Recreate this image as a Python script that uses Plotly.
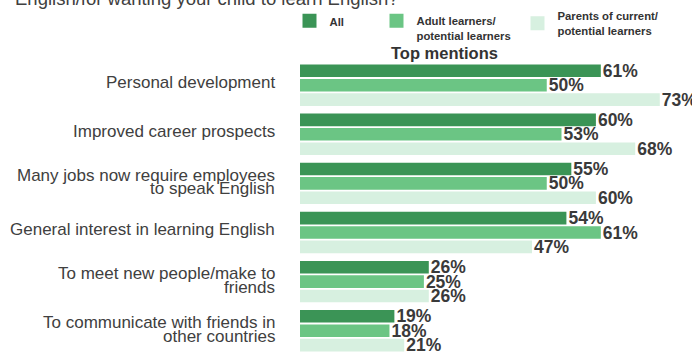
import plotly.graph_objects as go

# Reasons for learning English - top mentions (% of respondents)
categories = [
    "Personal development",
    "Improved career prospects",
    "Many jobs now require employees<br>to speak English",
    "General interest in learning English",
    "To meet new people/make to<br>friends",
    "To communicate with friends in<br>other countries",
]
all_vals = [61, 60, 55, 54, 26, 19]
adult_vals = [50, 53, 50, 61, 25, 18]
parent_vals = [73, 68, 60, 47, 26, 21]

series_names = ["All", "Adult learners/<br>potential learners", "Parents of current/<br>potential learners"]
series_colors = ["#3b9456", "#6bc584", "#d7f0e0"]

title_line = "English/for wanting your child to learn English?"
subtitle = "Top mentions"

FONT = "Liberation Sans, Arial, sans-serif"
W, H = 692, 352
ML = 300            # left margin (label column)
PW = W - ML         # plot width
GROUP_PX = 49.1     # pixel pitch of one category
FIRST_CENTER = 85.2 # pixel y of the first category centre

# y range so that categories land at the right pixel rows (reversed axis)
y_top = -FIRST_CENTER / GROUP_PX
y_bot = (H - FIRST_CENTER) / GROUP_PX

fig = go.Figure()
legend_ids = ["legend", "legend2", "legend3"]
for name, vals, color, lg in zip(series_names, [all_vals, adult_vals, parent_vals], series_colors, legend_ids):
    fig.add_trace(go.Bar(
        y=categories,
        x=vals,
        orientation="h",
        name=name,
        marker=dict(color=color, line=dict(color=color, width=2)),
        text=[f"{v}%" for v in vals],
        textposition="outside",
        cliponaxis=False,
        constraintext="none",
        textfont=dict(family=FONT, size=17.5, color="#3a3a3a", weight="bold"),
        legend=lg,
        hoverinfo="skip",
    ))

annotations = []
# category labels, drawn line by line for tight line spacing
for cat in categories:
    lines = cat.split("<br>")
    if len(lines) == 1:
        shifts = [3]
    else:
        shifts = [8, -5.5]
    for line, s in zip(lines, shifts):
        annotations.append(dict(
            x=0, xref="paper", xanchor="right", xshift=-23,
            y=cat, yref="y", yanchor="middle", yshift=s,
            text=line, showarrow=False,
            font=dict(family=FONT, size=17, color="#404040"),
        ))

annotations.append(dict(
    x=(444 - ML) / PW, xref="paper", xanchor="center",
    y=1 - 52.5 / H, yref="paper", yanchor="middle",
    text=f"<b>{subtitle}</b>", showarrow=False,
    font=dict(family=FONT, size=16.5, color="#333333"),
))
annotations.append(dict(
    x=(13.3 - ML) / PW, xref="paper", xanchor="left",
    y=1 + 1.5 / H, yref="paper", yanchor="middle",
    text=title_line, showarrow=False,
    font=dict(family=FONT, size=18.5, color="#404040"),
))

legend_font = dict(family=FONT, size=11.3, color="#333333", weight="bold")
def legend_box(x_px, top_px, valign):
    return dict(
        x=(x_px - ML) / PW, xanchor="left",
        y=1 - top_px / H, yanchor="top",
        orientation="h", bgcolor="rgba(0,0,0,0)", borderwidth=0,
        font=legend_font, valign=valign,
    )

fig.update_layout(
    width=W, height=H,
    margin=dict(l=ML, r=0, t=0, b=0),
    paper_bgcolor="white", plot_bgcolor="white",
    barmode="group", bargap=0.12, bargroupgap=0.264,
    xaxis=dict(range=[0, PW / 4.915], visible=False, fixedrange=True),
    yaxis=dict(
        type="category", categoryorder="array", categoryarray=categories,
        range=[y_bot, y_top], showticklabels=False, showgrid=False,
        zeroline=False, showline=False, ticks="", fixedrange=True,
    ),
    showlegend=True,
    legend=legend_box(289.5, 7, "top"),
    legend2=legend_box(376.5, 7, "top"),
    legend3=legend_box(517.5, 2, "middle"),
    annotations=annotations,
    font=dict(family=FONT),
)

fig.write_html("out.html", config={"displayModeBar": False})
